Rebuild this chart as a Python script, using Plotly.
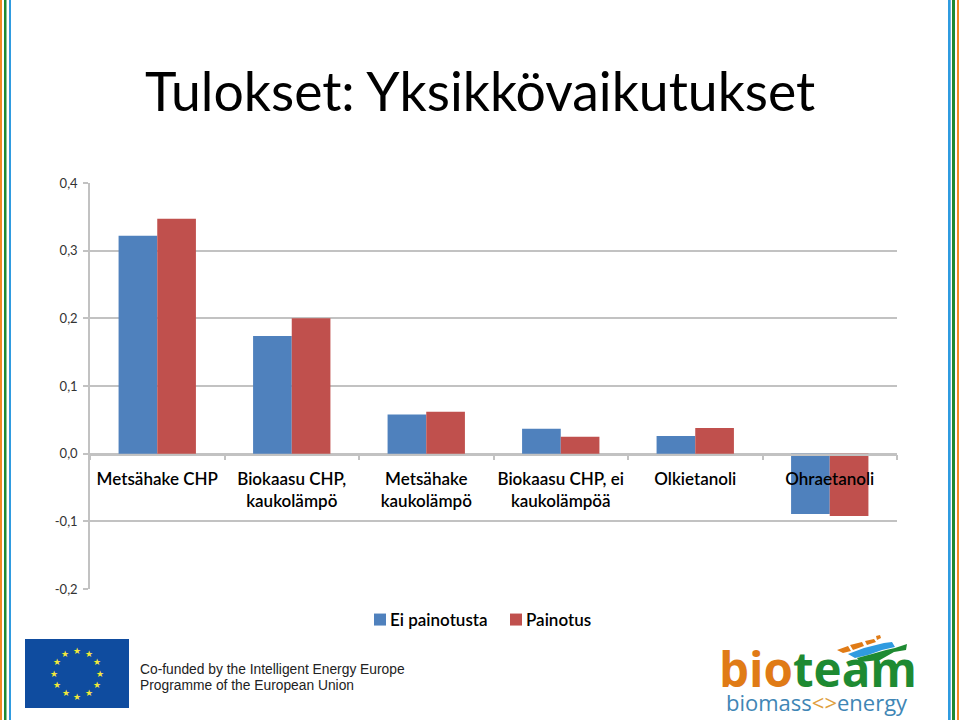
import math
import plotly.graph_objects as go

# ---- data ----
categories = ["Metsähake CHP", "Biokaasu CHP,<br>kaukolämpö", "Metsähake<br>kaukolämpö",
              "Biokaasu CHP, ei<br>kaukolämpöä", "Olkietanoli", "Ohraetanoli"]
ei_painotusta = [0.322, 0.174, 0.058, 0.037, 0.026, -0.089]
painotus = [0.347, 0.200, 0.062, 0.025, 0.038, -0.092]
y_ticks = [-0.2, -0.1, 0.0, 0.1, 0.2, 0.3, 0.4]
y_labels = ["-0,2", "-0,1", "0,0", "0,1", "0,2", "0,3", "0,4"]
title_text = "Tulokset: Yksikkövaikutukset"

W, H = 959, 720
L, R, T, B = 90, 897, 183, 589
GREY = "#C2C2C2"
FONT = "Lato"


def px(x):
    return (x - L) / (R - L)


def py(y):
    return (B - y) / (B - T)


def rect(x0, y0, x1, y1, color):
    return dict(type="rect", xref="paper", yref="paper", x0=px(x0), x1=px(x1), y0=py(y0), y1=py(y1),
                fillcolor=color, line_width=0, layer="above")


def path(points, color):
    d = "M " + " L ".join(f"{px(a):.5f},{py(b):.5f}" for a, b in points) + " Z"
    return dict(type="path", xref="paper", yref="paper", path=d, fillcolor=color, line_width=0, layer="above")


def label(x, y, text, size, color="#000000", family=FONT, anchor="left"):
    return dict(xref="paper", yref="paper", x=px(x), y=py(y), text=text, showarrow=False,
                xanchor=anchor, yanchor="middle", align=anchor,
                font=dict(size=size, color=color, family=family), borderpad=0, borderwidth=0)


fig = go.Figure()
fig.add_bar(name="Ei painotusta", x=categories, y=ei_painotusta, marker_color="#4F81BD", marker_line_width=0)
fig.add_bar(name="Painotus", x=categories, y=painotus, marker_color="#C0504D", marker_line_width=0)
# invisible trace keeps the zero-anchored label axis alive
fig.add_scatter(x=categories, y=[0.2] * len(categories), xaxis="x2", yaxis="y2", mode="markers", marker_opacity=0,
                showlegend=False, hoverinfo="skip")

shapes = [
    rect(0, 0, 2, H, "#F08A24"), rect(4, 0, 6.5, H, "#1E8A32"), rect(9, 0, 11, H, "#2F9BE0"),
    rect(948, 0, 950.7, H, "#2F9BE0"), rect(952, 0, 955, H, "#1E8A32"), rect(957, 0, 959, H, "#F08A24"),
    rect(25, 639, 129, 708, "#0F4C9F"),
    # bioteam emblem
    path([(837, 650), (848, 646), (851, 651), (843, 653)], "#E07B16"),
    path([(850, 645), (862, 642), (864, 646), (853, 650)], "#E07B16"),
    path([(865, 641), (874, 639), (876, 642), (867, 645)], "#E07B16"),
    path([(876, 636), (880, 635), (881, 638), (877, 640)], "#E07B16"),
    path([(848, 654), (864, 648), (884, 643), (892, 642), (895, 647), (882, 650), (868, 655), (855, 658)], "#2F9BE0"),
    path([(857, 658), (872, 654), (886, 650), (895, 648), (907, 644), (906, 650), (894, 652), (880, 660), (860, 662)], "#1E8A32"),
]

annotations = [
    label(145, 90, title_text, 53.5, color="#000000"),
    label(140, 669, "Co-funded by the Intelligent Energy Europe", 13.8, "#222222", "Liberation Sans"),
    label(140, 685, "Programme of the European Union", 13.8, "#222222", "Liberation Sans"),
    label(719, 668, "<b><span style='color:#E07B16'>bio</span><span style='color:#1E8A32'>team</span></b>",
          47.5, "#1E8A32", "Open Sans"),
    label(726, 702, "biomass<span style='color:#E0A040'>&lt;&gt;</span>energy", 22, "#3F86B5", "Open Sans"),
]
for k in range(12):
    a = math.radians(30 * k)
    annotations.append(dict(xref="paper", yref="paper", x=px(77 + 23 * math.sin(a)), y=py(673.5 - 23 * math.cos(a)),
                            text="★", showarrow=False, xanchor="center", yanchor="middle", borderpad=0,
                            font=dict(size=9, color="#F2E93A", family="DejaVu Sans")))

x_range = [-0.5, len(categories) - 0.5]
fig.update_layout(
    width=W, height=H, autosize=False,
    margin=dict(l=L, r=W - R, t=T, b=H - B, pad=0),
    paper_bgcolor="white", plot_bgcolor="rgba(0,0,0,0)",
    barmode="group", bargap=0.425, bargroupgap=0,
    font=dict(family=FONT, color="#000000"),
    xaxis=dict(anchor="y", domain=[0, 1], type="category", categoryorder="array", categoryarray=categories,
               range=x_range, visible=False),
    xaxis2=dict(anchor="y2", domain=[0, 1], type="category", categoryorder="array", categoryarray=categories,
                range=x_range, tickson="boundaries", ticks="outside", ticklen=5, tickcolor=GREY, tickwidth=1.5,
                showline=True, linecolor=GREY, linewidth=1.5, showgrid=False, zeroline=False,
                tickangle=0, ticklabelstandoff=9,
                tickfont=dict(size=17, color="#000000", family=FONT, weight=600),
                automargin=False),
    yaxis=dict(domain=[0, 1], anchor="x", range=[-0.2, 0.4], tickvals=y_ticks, ticktext=y_labels,
               ticks="outside", ticklen=5, tickcolor=GREY, tickwidth=1.5, ticklabelstandoff=3,
               showline=True, linecolor=GREY, linewidth=1.5, gridcolor=GREY, gridwidth=1.5,
               zeroline=False, tickfont=dict(size=13, color="#333333", family=FONT), automargin=False),
    yaxis2=dict(domain=[1 / 3, 1], anchor="x2", range=[0, 0.4], visible=False, fixedrange=True),
    showlegend=True,
    legend=dict(orientation="h", x=px(360), y=py(620), xanchor="left", yanchor="middle",
                font=dict(size=17, color="#000000", family=FONT, weight=600), bgcolor="rgba(0,0,0,0)",
                itemwidth=30, traceorder="normal", entrywidth=91, entrywidthmode="pixels"),
    shapes=shapes, annotations=annotations,
)

fig.write_html("out.html", config=dict(displayModeBar=False),
               post_script="document.body.style.margin='0';document.body.style.overflow='hidden';"
                           "document.querySelectorAll('.legendtext').forEach(t=>t.setAttribute('x','30'));")
